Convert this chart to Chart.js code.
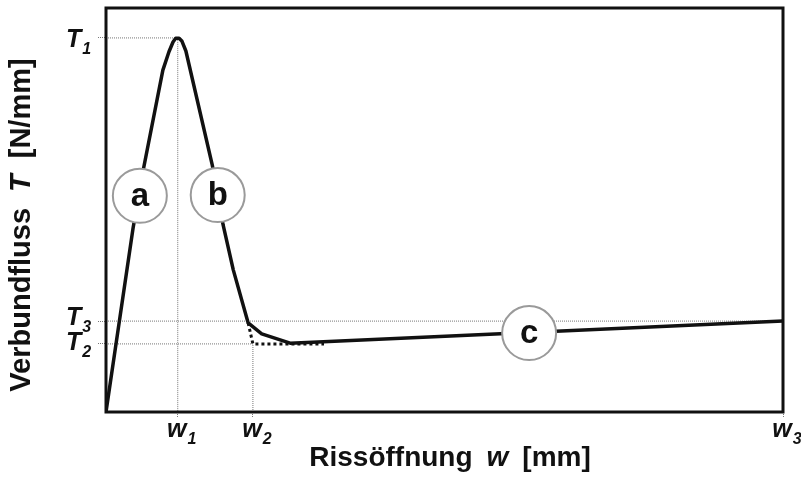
<!DOCTYPE html>
<html>
<head>
<meta charset="utf-8">
<script src="https://cdn.jsdelivr.net/npm/chart.js@4.4.0/dist/chart.umd.min.js"></script>
<style>
  html, body { margin: 0; padding: 0; background: #fff; }
</style>
</head>
<body>
<canvas id="chart" width="801" height="477"></canvas>
<script>
// Verbundfluss-Rissöffnungs-Beziehung (schematisch)

// Kurve: Rissöffnung w / Verbundfluss T (relative Einheiten, w3 = 100, T1 = 100)
var curveW = [0, 4.0, 5.5, 8.4, 9.3, 9.9, 10.3, 10.8, 11.2, 11.8, 15.7, 17.3, 18.8, 21.0, 23.0, 27.2, 100];
var curveT = [0, 49.2, 64.7, 91.4, 96.3, 98.9, 99.9, 99.9, 99.2, 96.5, 66.0, 50.0, 38.0, 23.8, 20.9, 18.4, 24.3];

// bilineare Näherung (gepunktet)
var approxW = [21.0, 21.7, 32.2];
var approxT = [23.8, 18.2, 18.2];

// Achsenmarken
var wTicks = [10.6, 21.7, 100];      // w1, w2, w3
var wNames = ['w1', 'w2', 'w3'];
var tTicks = [100, 24.3, 18.2];      // T1, T3, T2
var tNames = ['T1', 'T3', 'T2'];

// Bereichsmarken a, b, c
var markNames = ['a', 'b', 'c'];
var markW = [5.0, 16.5, 62.5];
var markT = [57.8, 58.0, 21.1];

function pts(xs, ys) {
    return xs.map(function (x, i) { return { x: x, y: ys[i] }; });
}

// Hilfslinien aus den Achsenmarken
var refLines = [
    { x: 0, y: tTicks[0] }, { x: wTicks[0], y: tTicks[0] }, { x: wTicks[0], y: 0 }, { x: wTicks[0], y: null },
    { x: 0, y: tTicks[1] }, { x: wTicks[2], y: tTicks[1] }, { x: wTicks[2], y: null },
    { x: 0, y: tTicks[2] }, { x: wTicks[1], y: tTicks[2] }, { x: wTicks[1], y: 0 }
];

var FONT = '"Liberation Sans", Arial, Helvetica, sans-serif';

function drawSub(ctx, x, y, main, sub) {
    ctx.font = 'italic bold 25px ' + FONT;
    ctx.fillText(main, x, y);
    var mw = ctx.measureText(main).width;
    ctx.font = 'italic bold 16px ' + FONT;
    ctx.fillText(sub, x + mw + 1, y + 7);
}

function drawParts(ctx, parts, cx, y, gap, size) {
    var total = 0;
    parts.forEach(function (p, i) {
        ctx.font = (p.italic ? 'italic ' : '') + 'bold ' + size + 'px ' + FONT;
        p.w = ctx.measureText(p.t).width;
        total += p.w + (i > 0 ? gap : 0);
    });
    var x = cx - total / 2;
    parts.forEach(function (p) {
        ctx.font = (p.italic ? 'italic ' : '') + 'bold ' + size + 'px ' + FONT;
        ctx.fillText(p.t, x, y);
        x += p.w + gap;
    });
}

var textPlugin = {
    id: 'texts',
    afterDatasetsDraw: function (chart) {
        var ctx = chart.ctx, a = chart.chartArea;
        var xs = chart.scales.x, ys = chart.scales.y;
        ctx.save();
        // Rahmen
        ctx.strokeStyle = '#111';
        ctx.lineWidth = 3;
        ctx.strokeRect(a.left, a.top, a.right - a.left, a.bottom - a.top);

        ctx.fillStyle = '#111';
        ctx.textBaseline = 'alphabetic';
        ctx.textAlign = 'left';

        // T-Marken
        var tShift = [9, 4, 6];
        tNames.forEach(function (n, i) {
            var y = ys.getPixelForValue(tTicks[i]);
            drawSub(ctx, 66, y + tShift[i], n.charAt(0), n.slice(1));
        });
        // w-Marken
        wNames.forEach(function (n, i) {
            var x = xs.getPixelForValue(wTicks[i]);
            ctx.font = 'italic bold 25px ' + FONT;
            var mw = ctx.measureText(n.charAt(0)).width;
            drawSub(ctx, x - mw / 2 - 1, a.bottom + 25, n.charAt(0), n.slice(1));
        });

        // Buchstaben in den Kreisen
        var meta = chart.getDatasetMeta(0);
        ctx.textAlign = 'center';
        ctx.textBaseline = 'middle';
        ctx.font = 'bold 33px ' + FONT;
        meta.data.forEach(function (el, i) {
            ctx.fillText(markNames[i], el.x, el.y + 1);
        });

        // Achsentitel
        ctx.textAlign = 'left';
        ctx.textBaseline = 'alphabetic';
        drawParts(ctx, [{ t: 'Rissöffnung' }, { t: 'w', italic: true }, { t: '[mm]' }], 450, 466, 14, 28);

        ctx.translate(30, 225);
        ctx.rotate(-Math.PI / 2);
        drawParts(ctx, [{ t: 'Verbundfluss' }, { t: 'T', italic: true }, { t: '[N/mm]' }], 0, 0, 16, 29);
        ctx.restore();
    }
};

var chart = new Chart(document.getElementById('chart'), {
    type: 'line',
    data: {
        datasets: [{
            // Kreise a, b, c
            data: pts(markW, markT),
            showLine: false,
            pointRadius: 27,
            pointHoverRadius: 27,
            pointBackgroundColor: '#fff',
            pointBorderColor: '#9a9a9a',
            pointBorderWidth: 2,
            order: 0
        }, {
            data: pts(curveW, curveT),
            borderColor: '#111',
            borderWidth: 3.5,
            borderJoinStyle: 'round',
            borderCapStyle: 'round',
            pointRadius: 0,
            tension: 0,
            order: 1
        }, {
            data: pts(approxW, approxT),
            borderColor: '#111',
            borderWidth: 3,
            borderDash: [3, 3],
            pointRadius: 0,
            order: 2
        }, {
            data: refLines,
            borderColor: '#777',
            borderWidth: 1,
            borderDash: [1, 1],
            pointRadius: 0,
            spanGaps: false,
            order: 3
        }]
    },
    options: {
        responsive: false,
        animation: false,
        events: [],
        layout: { autoPadding: false, padding: { left: 98, right: 18, top: 8, bottom: 59 } },
        plugins: { legend: { display: false }, tooltip: { enabled: false } },
        scales: {
            x: {
                type: 'linear',
                min: 0,
                max: 100,
                afterBuildTicks: function (s) { s.ticks = wTicks.map(function (v) { return { value: v }; }); },
                ticks: { display: false },
                border: { display: false },
                grid: {
                    drawOnChartArea: false,
                    tickLength: 6,
                    tickColor: '#777',
                    tickWidth: 1,
                    tickBorderDash: [1, 1]
                }
            },
            y: {
                type: 'linear',
                min: 0,
                max: 108,
                afterBuildTicks: function (s) { s.ticks = tTicks.map(function (v) { return { value: v }; }); },
                ticks: { display: false },
                border: { display: false },
                grid: {
                    drawOnChartArea: false,
                    tickLength: 8,
                    tickColor: '#777',
                    tickWidth: 1,
                    tickBorderDash: [1, 1]
                }
            }
        }
    },
    plugins: [textPlugin]
});
</script>
</body>
</html>
